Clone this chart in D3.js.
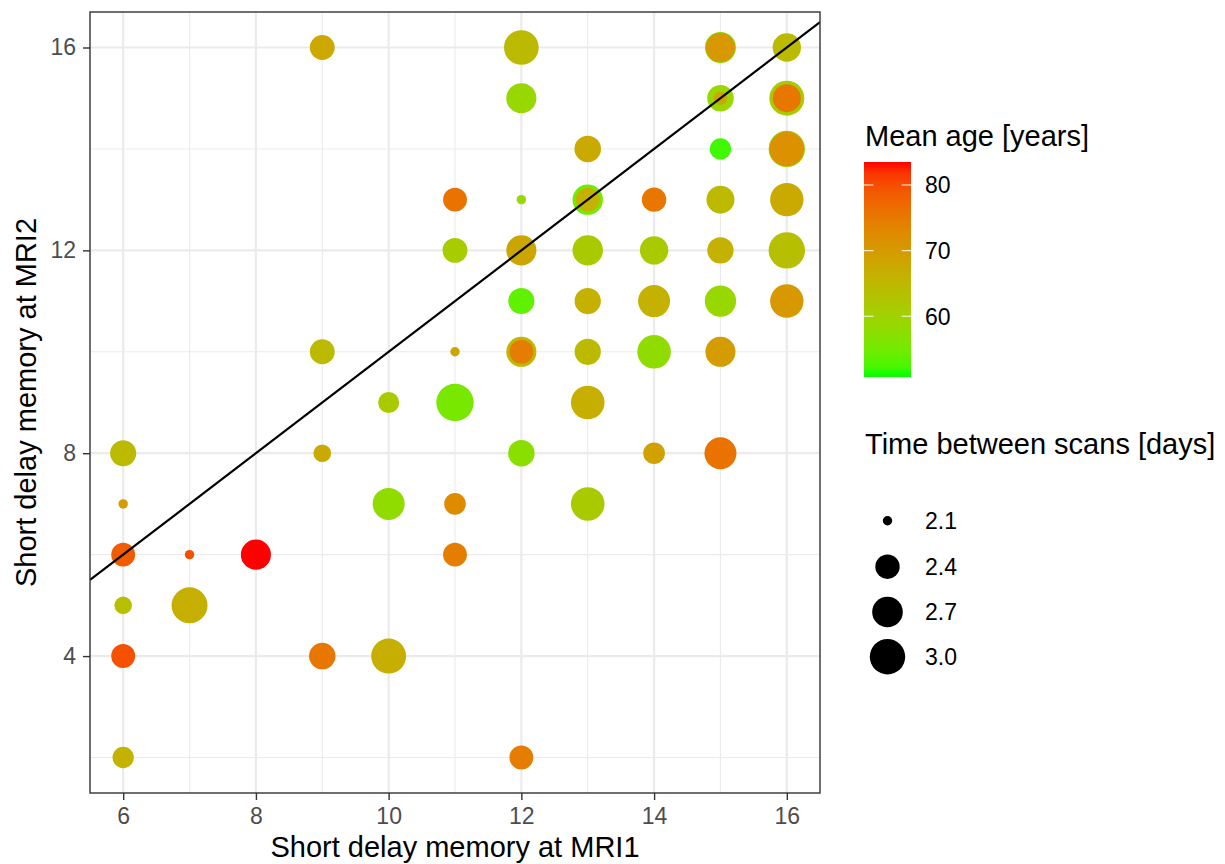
<!DOCTYPE html>
<html>
<head>
<meta charset="utf-8">
<script src="https://cdn.jsdelivr.net/npm/d3@7"></script>
<style>
  html, body { margin: 0; padding: 0; background: #fff; }
  svg { display: block; font-family: "Liberation Sans", Arial, Helvetica, sans-serif; }
</style>
</head>
<body>
<svg id="chart" width="1225" height="864"></svg>
<script>
// Short delay memory score at the first and second scan, per score pair
const mri1 = [6, 6, 6, 6, 6, 6, 7, 7, 8,
  9, 9, 9, 9, 10, 10, 10,
  11, 11, 11, 11, 11, 11,
  12, 12, 12, 12, 12, 12, 12, 12, 12,
  13, 13, 13, 13, 13, 13, 13, 13,
  14, 14, 14, 14, 14,
  15, 15, 15, 15, 15, 15, 15, 15, 15, 15,
  16, 16, 16, 16, 16, 16, 16, 16];
const mri2 = [8, 7, 6, 5, 4, 2, 6, 5, 6,
  16, 10, 8, 4, 9, 7, 4,
  13, 12, 10, 9, 7, 6,
  16, 15, 13, 12, 11, 10, 10, 8, 2,
  14, 13, 13, 12, 11, 10, 9, 7,
  13, 12, 11, 10, 8,
  16, 16, 15, 15, 14, 13, 12, 11, 10, 8,
  16, 15, 15, 14, 14, 13, 12, 11];
// Mean age of the participants in each pair [years]
const meanAge = [64.5, 69.7, 78.6, 63.5, 79.6, 66.0, 79.6, 66.5, 83.5,
  67.8, 64.5, 67.5, 75.3, 61.5, 58.0, 66.5,
  76.0, 61.0, 68.0, 55.5, 72.5, 74.3,
  64.5, 59.0, 59.0, 68.0, 53.6, 64.5, 74.3, 57.3, 74.5,
  67.5, 55.0, 66.0, 61.5, 66.2, 64.5, 66.5, 61.5,
  75.3, 61.5, 66.2, 58.0, 69.0,
  56.0, 70.5, 59.0, 68.0, 52.0, 64.5, 66.2, 59.0, 69.7, 75.8,
  64.5, 61.5, 75.3, 59.0, 71.5, 67.5, 63.5, 70.5];
// Mean time between the two scans [days]
const scanDays = [2.47, 2.10, 2.38, 2.19, 2.38, 2.29, 2.10, 3.04, 2.67,
  2.42, 2.42, 2.19, 2.49, 2.28, 2.78, 2.97,
  2.38, 2.42, 2.10, 3.14, 2.30, 2.38,
  2.95, 2.67, 2.10, 2.67, 2.47, 2.67, 2.38, 2.49, 2.38,
  2.49, 2.69, 2.38, 2.69, 2.48, 2.48, 2.88, 2.88,
  2.40, 2.58, 2.78, 2.88, 2.30,
  2.72, 2.64, 2.49, 2.12, 2.29, 2.56, 2.48, 2.74, 2.67, 2.78,
  2.58, 2.97, 2.56, 3.07, 2.95, 2.87, 3.07, 2.87];

const xTicks = [6, 8, 10, 12, 14, 16];
const yTicks = [4, 8, 12, 16];
const xMinor = [7, 9, 11, 13, 15];
const yMinor = [2, 6, 10, 14];
const ageTicks = [60, 70, 80];
const dayTicks = [2.1, 2.4, 2.7, 3.0];
const ageLimits = [50.75, 83.5];
const dayLimits = [2.1, 3.0];

const points = mri1.map((x, i) => ({ x, y: mri2[i], age: meanAge[i], days: scanDays[i] }));

const svg = d3.select("#chart");
const panel = { left: 90, right: 820, top: 12, bottom: 793 };

const x = d3.scaleLinear().domain([5.5, 16.5]).range([panel.left, panel.right]);
const y = d3.scaleLinear().domain([1.3, 16.7]).range([panel.bottom, panel.top]);

const colour = d3.scaleSequential(d3.interpolateLab("#00FF00", "#FF0000")).domain(ageLimits);
// area-style size scale: radius grows with the square root of the rescaled value
const rLin = d3.scaleLinear().domain([0, 1]).range([4.7, 17.7]);
const radius = v => rLin(Math.sqrt(Math.max(0, (v - dayLimits[0]) / (dayLimits[1] - dayLimits[0]))));

// panel background and grid
svg.append("rect").attr("x", panel.left).attr("y", panel.top)
  .attr("width", panel.right - panel.left).attr("height", panel.bottom - panel.top)
  .attr("fill", "#fff");

const grid = svg.append("g").attr("stroke", "#EBEBEB");
grid.selectAll(".vmin").data(xMinor).join("line")
  .attr("x1", d => x(d)).attr("x2", d => x(d)).attr("y1", panel.top).attr("y2", panel.bottom)
  .attr("stroke-width", 1.1);
grid.selectAll(".hmin").data(yMinor).join("line")
  .attr("y1", d => y(d)).attr("y2", d => y(d)).attr("x1", panel.left).attr("x2", panel.right)
  .attr("stroke-width", 1.1);
grid.selectAll(".vmaj").data(xTicks).join("line")
  .attr("x1", d => x(d)).attr("x2", d => x(d)).attr("y1", panel.top).attr("y2", panel.bottom)
  .attr("stroke-width", 2.2);
grid.selectAll(".hmaj").data(yTicks).join("line")
  .attr("y1", d => y(d)).attr("y2", d => y(d)).attr("x1", panel.left).attr("x2", panel.right)
  .attr("stroke-width", 2.2);

// bubbles
const clipId = "panel-clip";
svg.append("clipPath").attr("id", clipId).append("rect")
  .attr("x", panel.left).attr("y", panel.top)
  .attr("width", panel.right - panel.left).attr("height", panel.bottom - panel.top);

svg.append("g").selectAll("circle").data(points).join("circle")
  .attr("cx", d => x(d.x)).attr("cy", d => y(d.y))
  .attr("r", d => radius(d.days))
  .attr("fill", d => colour(d.age));

// identity line y = x
svg.append("line").attr("clip-path", `url(#${clipId})`)
  .attr("x1", x(5.5)).attr("y1", y(5.5)).attr("x2", x(16.5)).attr("y2", y(16.5))
  .attr("stroke", "#000").attr("stroke-width", 2.2);

// panel border
svg.append("rect").attr("x", panel.left).attr("y", panel.top)
  .attr("width", panel.right - panel.left).attr("height", panel.bottom - panel.top)
  .attr("fill", "none").attr("stroke", "#333333").attr("stroke-width", 1.4);

// axes
const xAxis = svg.append("g").attr("transform", `translate(0,${panel.bottom})`)
  .call(d3.axisBottom(x).tickValues(xTicks).tickSize(7).tickPadding(8).tickFormat(d3.format("d")));
const yAxis = svg.append("g").attr("transform", `translate(${panel.left},0)`)
  .call(d3.axisLeft(y).tickValues(yTicks).tickSize(7).tickPadding(7).tickFormat(d3.format("d")));
[xAxis, yAxis].forEach(a => {
  a.select(".domain").remove();
  a.selectAll(".tick line").attr("stroke", "#333333").attr("stroke-width", 1.4);
  a.selectAll(".tick text").attr("fill", "#4D4D4D").style("font-size", "23px")
    .style("font-family", "'Liberation Sans', Arial, sans-serif");
});

svg.append("text").attr("x", (panel.left + panel.right) / 2).attr("y", 857)
  .attr("text-anchor", "middle").style("font-size", "29px").attr("fill", "#000")
  .text("Short delay memory at MRI1");
svg.append("text").attr("transform", `translate(36,${(panel.top + panel.bottom) / 2}) rotate(-90)`)
  .attr("text-anchor", "middle").style("font-size", "29px").attr("fill", "#000")
  .text("Short delay memory at MRI2");

// colour legend
const legX = 864, barW = 47, barTop = 162, barBottom = 377;
svg.append("text").attr("x", 865).attr("y", 146).style("font-size", "29px").text("Mean age [years]");
const grad = svg.append("defs").append("linearGradient").attr("id", "age-grad")
  .attr("x1", 0).attr("y1", 1).attr("x2", 0).attr("y2", 0);
d3.range(0, 1.0001, 0.05).forEach(t => {
  grad.append("stop").attr("offset", t)
    .attr("stop-color", colour(ageLimits[0] + t * (ageLimits[1] - ageLimits[0])));
});
svg.append("rect").attr("x", legX).attr("y", barTop).attr("width", barW)
  .attr("height", barBottom - barTop).attr("fill", "url(#age-grad)");
const ageY = d3.scaleLinear().domain(ageLimits).range([barBottom, barTop]);
const ageTick = svg.append("g").selectAll("g").data(ageTicks).join("g")
  .attr("transform", d => `translate(0,${ageY(d)})`);
ageTick.append("line").attr("x1", legX).attr("x2", legX + barW / 5)
  .attr("stroke", "#fff").attr("stroke-opacity", 0.8).attr("stroke-width", 1.2);
ageTick.append("line").attr("x1", legX + barW * 4 / 5).attr("x2", legX + barW)
  .attr("stroke", "#fff").attr("stroke-opacity", 0.8).attr("stroke-width", 1.2);
ageTick.append("text").attr("x", 925).attr("dy", "0.36em").style("font-size", "23px")
  .text(d => d);

// size legend
svg.append("text").attr("x", 865).attr("y", 454).style("font-size", "29px")
  .text("Time between scans [days]");
const keyY = [520.7, 566.7, 612, 656.7];
const sizeKey = svg.append("g").selectAll("g").data(dayTicks).join("g")
  .attr("transform", (d, i) => `translate(0,${keyY[i]})`);
sizeKey.append("circle").attr("cx", legX + barW / 2).attr("r", d => radius(d)).attr("fill", "#000");
sizeKey.append("text").attr("x", 925).attr("dy", "0.36em").style("font-size", "23px")
  .text(d => d3.format(".1f")(d));
</script>
</body>
</html>
